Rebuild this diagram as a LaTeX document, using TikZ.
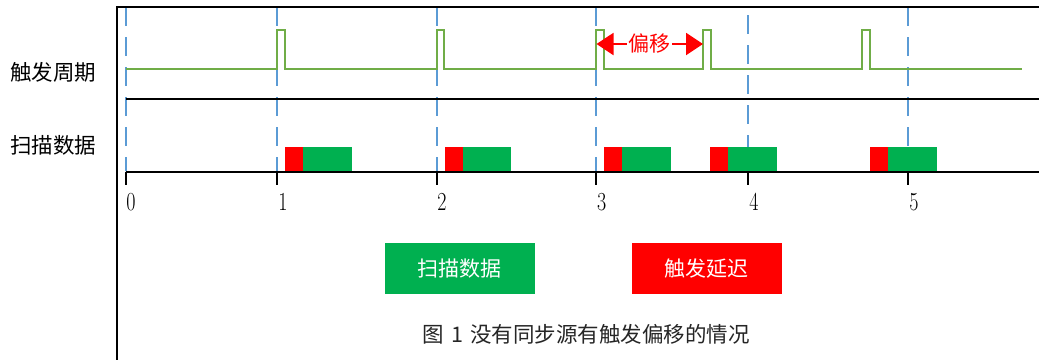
\documentclass[tikz,border=0pt]{standalone}
\usepackage{fontspec}
\newfontfamily\cjk{Noto Sans CJK SC}
\usetikzlibrary{arrows.meta}
\definecolor{wavegreen}{HTML}{70AD47}
\definecolor{guideblue}{HTML}{5B9BD5}
\definecolor{boxgreen}{HTML}{00B050}
\definecolor{boxred}{HTML}{FF0000}
\definecolor{captext}{HTML}{262626}
\tikzset{
  frameline/.style={line width=2pt, black},
  guide/.style={guideblue, line width=2pt, dash pattern=on 19pt off 11pt},
  wave/.style={wavegreen, line width=2.3pt, line join=miter},
  lbl/.style={font=\cjk\fontsize{21.5}{21.5}\selectfont, inner sep=0pt},
  ticklbl/.style={font=\fontsize{20}{20}\selectfont, inner sep=0pt},
  legbox/.style={minimum width=150pt, minimum height=51.6pt, inner sep=0pt, text=white, font=\cjk\fontsize{21}{21}\selectfont},
  offarrow/.style={boxred, line width=2pt, {Triangle[length=17pt,width=22pt]}-{Triangle[length=17pt,width=22pt]}}
}
\begin{document}
\begin{tikzpicture}[x=1pt,y=-1pt]
\useasboundingbox (0,0) rectangle (1039,360);
\fill[white] (0,0) rectangle (1039,360);
% dashed guides
\foreach \x/\s in {125.7/7, 277/7, 436.7/7, 596/7, 748.3/15, 907.7/7}
  \draw[guide] (\x,\s) -- (\x,171);
% frame
\draw[frameline] (1039,7) -- (117.3,7) -- (117.3,360);
\draw[frameline] (125.7,99) -- (1039,99);
\draw[frameline] (125.7,171.7) -- (1039,171.7);
\foreach \x in {125.7, 277, 436.7, 596, 748.3, 907.7}
  \draw[frameline] (\x,171.7) -- (\x,185);
% trigger waveform
\draw[wave] (125.7,69) -- (277,69) -- (277,30) -- (285,30) -- (285,69)
  -- (436.7,69) -- (436.7,30) -- (444.3,30) -- (444.3,69)
  -- (596,69) -- (596,30) -- (604,30) -- (604,69)
  -- (703.3,69) -- (703.3,30) -- (710.7,30) -- (710.7,69)
  -- (862.3,69) -- (862.3,30) -- (870,30) -- (870,69)
  -- (1022,69);
% scan data boxes
\foreach \a/\b/\c in {285/303/351.7, 445/463/511, 604/622/670.7, 710/727.7/777, 870/888/936.7}{
  \fill[boxred] (\a,147) rectangle (\b,171);
  \fill[boxgreen] (\b,147) rectangle (\c,171);
}
% offset arrow
\coordinate (offL) at (596.5,44);
\coordinate (offR) at (703,44);
\draw[offarrow] (offL) -- node[fill=white, inner sep=1.5pt, text=boxred, font=\cjk\fontsize{21}{21}\selectfont] (offtxt) {偏移} (offR);
% row labels
\node[lbl] (trig) at (53,72.5) {触发周期};
\node[lbl] (scan) at (53,145.5) {扫描数据};
% tick labels
\foreach \x/\t in {131/0, 283/1, 442/2, 601.7/3, 754/4, 914/5}
  \node[ticklbl] at (\x,202) {\scalebox{1}[1.3]{\t}};
% legend
\node[legbox, fill=boxgreen] (legscan) at (459.7,268.5) {扫描数据};
\node[legbox, fill=boxred] (legtrig) at (706.7,268.5) {触发延迟};
% caption
\node[font=\cjk\fontsize{21.5}{21.5}\selectfont, text=captext, inner sep=0pt] (cap) at (586,334) {图\hspace{0.35em}1\hspace{0.35em}没有同步源有触发偏移的情况};
\end{tikzpicture}
\end{document}
